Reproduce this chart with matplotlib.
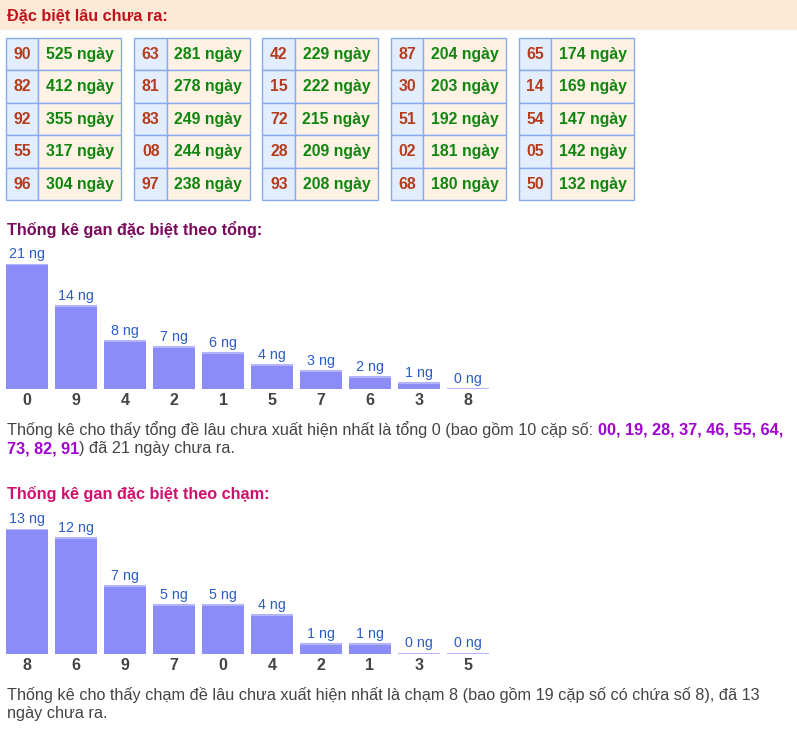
import matplotlib
matplotlib.use("Agg")
import matplotlib.pyplot as plt
import matplotlib.patches as patches

plt.rcParams['font.family'] = ['Liberation Sans', 'DejaVu Sans']

W, H = 797, 733

# table data: five groups of five rows
group_nums = [
    ["90", "82", "92", "55", "96"],
    ["63", "81", "83", "08", "97"],
    ["42", "15", "72", "28", "93"],
    ["87", "30", "51", "02", "68"],
    ["65", "14", "54", "05", "50"],
]
group_days = [
    [525, 412, 355, 317, 304],
    [281, 278, 249, 244, 238],
    [229, 222, 215, 209, 208],
    [204, 203, 192, 181, 180],
    [174, 169, 147, 142, 132],
]

tong_labels = ["0", "9", "4", "2", "1", "5", "7", "6", "3", "8"]
tong_values = [21, 14, 8, 7, 6, 4, 3, 2, 1, 0]

cham_labels = ["8", "6", "9", "7", "0", "4", "2", "1", "3", "5"]
cham_values = [13, 12, 7, 5, 5, 4, 1, 1, 0, 0]

tong_pairs = "00, 19, 28, 37, 46, 55, 64,"
tong_pairs2 = "73, 82, 91"

fig = plt.figure(figsize=(W / 100, H / 100), dpi=100)
bg = fig.add_axes([0, 0, 1, 1])
bg.set_xlim(0, W)
bg.set_ylim(H, 0)
bg.axis('off')
renderer = fig.canvas.get_renderer()

FS = 11.7

# header band
bg.add_patch(patches.Rectangle((0, 0), W, 30, color='#fce9d6', lw=0))
bg.text(7, 15.5, "Đặc biệt lâu chưa ra:", color='#c0121c', fontsize=FS,
        fontweight='bold', va='center')

# tables
border = '#88aaf0'
row_h = 32.5
for g in range(5):
    x0 = 6 + g * 128.2
    for r in range(5):
        y0 = 37.5 + r * row_h
        bg.add_patch(patches.Rectangle((x0, y0), 32.5, row_h, facecolor='#e2eefe',
                                       edgecolor=border, lw=1))
        bg.add_patch(patches.Rectangle((x0 + 32.5, y0), 83, row_h, facecolor='#fdf2e3',
                                       edgecolor=border, lw=1))
        bg.text(x0 + 16.5, y0 + row_h / 2 + 0.5, group_nums[g][r], color='#b33c1c',
                fontsize=11.4, fontweight='bold', ha='center', va='center')
        bg.text(x0 + 32.5 + 41.5, y0 + row_h / 2 + 0.5, f"{group_days[g][r]} ngày",
                color='#108510', fontsize=11.4, fontweight='bold', ha='center', va='center')


def bar_chart(values, labels, baseline):
    # pixel -> figure fraction
    left = 2.5 / W
    width = 490 / W
    bottom = 1 - baseline / H
    height = 125 / H
    ax = fig.add_axes([left, bottom, width, height])
    xs = list(range(len(values)))
    bw = 42 / 49
    ax.bar(xs, values, width=bw, color='#8c8cf8', lw=0)
    ax.hlines(values, [x - bw / 2 for x in xs], [x + bw / 2 for x in xs],
              color='#b4b4fc', lw=1.5)
    ax.set_xlim(-0.5, len(values) - 0.5)
    ax.set_ylim(0, max(values))
    for x, v in zip(xs, values):
        ax.annotate(f"{v} ng", (x, v), xytext=(0, 3), textcoords='offset pixels',
                    ha='center', va='bottom', color='#2a5cc8', fontsize=10.3,
                    annotation_clip=False)
    ax.set_xticks(xs)
    ax.set_xticklabels(labels, fontsize=11.5, fontweight='bold', color='#444444')
    ax.tick_params(axis='x', length=0, pad=3)
    ax.set_yticks([])
    for s in ax.spines.values():
        s.set_visible(False)
    ax.patch.set_alpha(0)
    return ax


def put_runs(x, y, runs):
    for text, color, weight in runs:
        t = bg.text(x, y, text, color=color, fontweight=weight, fontsize=FS,
                    va='center')
        x += t.get_window_extent(renderer).width


# section: tong
bg.text(7, 229.5, "Thống kê gan đặc biệt theo tổng:", color='#7b0a5c', fontsize=FS,
        fontweight='bold', va='center')
bar_chart(tong_values, tong_labels, 389)

gray = '#444444'
purple = '#a000d0'
put_runs(7, 430, [
    ("Thống kê cho thấy tổng đề lâu chưa xuất hiện nhất là tổng 0 (bao gồm 10 cặp số: ",
     gray, 'normal'),
    (tong_pairs, purple, 'bold'),
])
put_runs(7, 448.5, [
    (tong_pairs2, purple, 'bold'),
    (") đã 21 ngày chưa ra.", gray, 'normal'),
])

# section: cham
bg.text(7, 494, "Thống kê gan đặc biệt theo chạm:", color='#d0106c', fontsize=FS,
        fontweight='bold', va='center')
bar_chart(cham_values, cham_labels, 653.5)

bg.text(7, 695, "Thống kê cho thấy chạm đề lâu chưa xuất hiện nhất là chạm 8 (bao gồm 19 cặp số có chứa số 8), đã 13",
        color=gray, fontsize=FS, va='center')
bg.text(7, 713.5, "ngày chưa ra.", color=gray, fontsize=FS, va='center')

fig.savefig('out.png', dpi=100)
